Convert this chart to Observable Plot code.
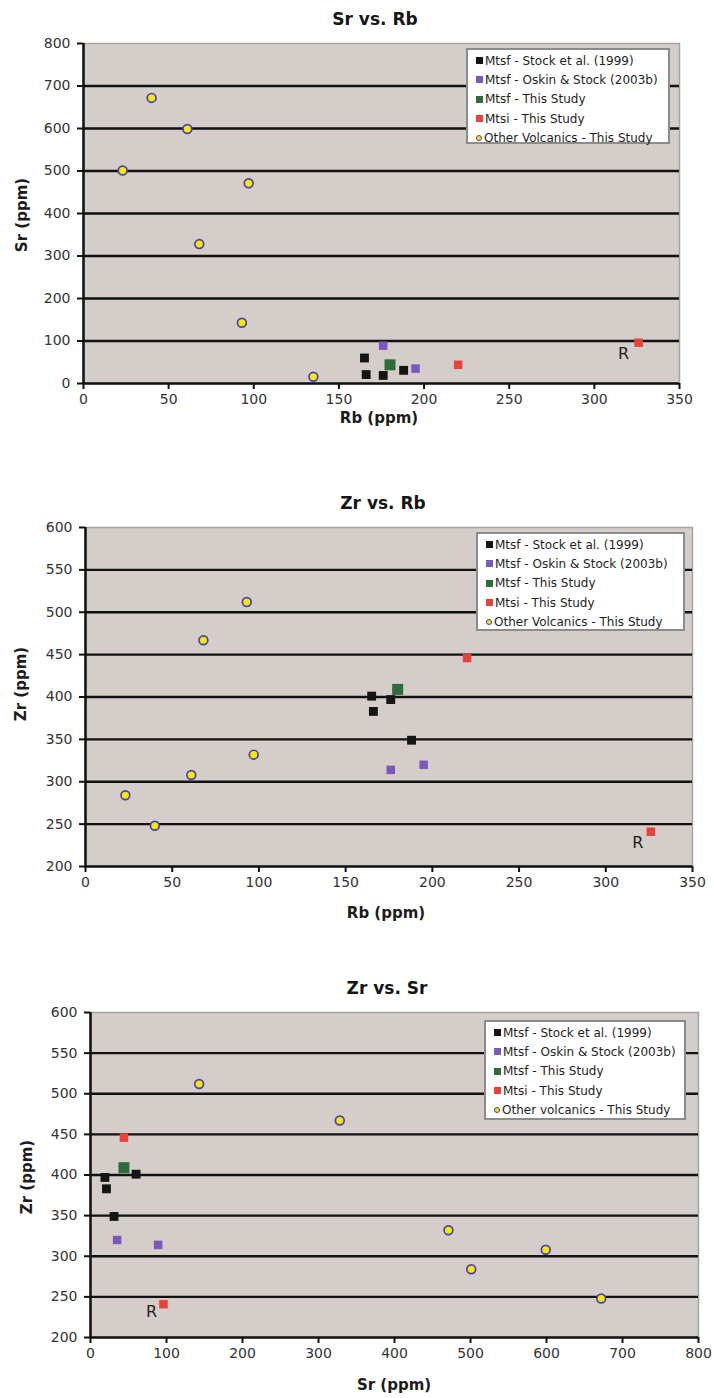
<!DOCTYPE html>
<html>
<head>
<meta charset="utf-8">
<script src="https://cdn.jsdelivr.net/npm/d3@7"></script>
<script src="https://cdn.jsdelivr.net/npm/@observablehq/plot@0.6"></script>
<style>
  body { margin: 0; background: #fff; }
  #page { position: relative; width: 714px; height: 1398px; overflow: hidden; font-family: "DejaVu Sans", Verdana, sans-serif; }
  .abs { position: absolute; }
  .title { font-weight: bold; font-size: 17px; color: #151515; transform: translate(-50%, -50%); white-space: nowrap; }
  .xlab { font-weight: bold; font-size: 15px; color: #1c1c1c; transform: translate(-50%, -50%); white-space: nowrap; }
  .ylab { font-weight: bold; font-size: 15px; color: #1c1c1c; transform: translate(-50%, -50%) rotate(-90deg); white-space: nowrap; }
  .legend { background: #fff; border: 2.5px solid #8c8c8c; box-sizing: border-box; font-size: 12px; color: #1e1e1e; padding: 1px 0 0 8px; }
  .legend .row { display: flex; align-items: center; height: 19.3px; white-space: nowrap; }
  .legend .sw { width: 7px; height: 7px; margin-right: 2px; flex: none; }
  .legend .sw.circ { width: 4px; height: 4px; border-radius: 50%; border: 1.6px solid #4a3fae; }
</style>
</head>
<body>
<div id="page"></div>
<script>
// ---------- DATA ----------
const groupLabels = ["Mtsf - Stock et al. (1999)", "Mtsf - Oskin & Stock (2003b)", "Mtsf - This Study", "Mtsi - This Study", "Other Volcanics - This Study"];
const groupLabelsZrSr = ["Mtsf - Stock et al. (1999)", "Mtsf - Oskin & Stock (2003b)", "Mtsf - This Study", "Mtsi - This Study", "Other volcanics - This Study"];

const stockRb = [165, 166, 176, 188];
const stockSr = [60, 21, 19, 31];
const stockZr = [401, 383, 397, 349];

const oskinRb = [176, 195];
const oskinSr = [89, 35];
const oskinZr = [314, 320];

const mtsfRb = [180];
const mtsfSr = [44];
const mtsfZr = [409];

const mtsiRb = [220, 326];
const mtsiSr = [44, 96];
const mtsiZr = [446, 241];

const otherRb = [40, 61, 23, 97, 68, 93, 135];
const otherSr = [672, 599, 501, 471, 328, 143, 16];
const otherZr = [248, 308, 284, 332, 467, 512, null];

const annotationText = "R";      // label next to the second Mtsi sample
const annotationGroup = 3, annotationIndex = 1;

const rbTicks = [0, 50, 100, 150, 200, 250, 300, 350];
const srTicksA = [0, 100, 200, 300, 400, 500, 600, 700, 800];
const zrTicks = [200, 250, 300, 350, 400, 450, 500, 550, 600];
const srTicksB = [0, 100, 200, 300, 400, 500, 600, 700, 800];

// ---------- build sample table ----------
const groupArrays = [
  [stockRb, stockSr, stockZr],
  [oskinRb, oskinSr, oskinZr],
  [mtsfRb, mtsfSr, mtsfZr],
  [mtsiRb, mtsiSr, mtsiZr],
  [otherRb, otherSr, otherZr]
];
const samples = [];
groupArrays.forEach(([rb, sr, zr], g) => {
  rb.forEach((v, i) => samples.push({group: g, idx: i, rb: v, sr: sr[i], zr: zr[i]}));
});

// ---------- styles ----------
const groupStyle = [
  {fill: "#151515", symbol: "square", r: 5.0},
  {fill: "#7b58bc", symbol: "square", r: 4.8},
  {fill: "#2e6c3a", symbol: "square", r: 6.2},
  {fill: "#e8423a", symbol: "square", r: 4.8},
  {fill: "#f6e800", symbol: "circle", r: 4.4, stroke: "#4a3fae", strokeWidth: 1.7}
];
const bg = "#d4cdca";

const charts = [
  {title: "Sr vs. Rb", x: "rb", y: "sr", xTicks: rbTicks, yTicks: srTicksA, xLabel: "Rb (ppm)", yLabel: "Sr (ppm)", legend: groupLabels,
   top: 0, height: 440, ml: 83, mr: 35, mt: 43, mb: 57,
   titlePos: [375, 19], xLabPos: [379, 418], yLabPos: [22, 215],
   legendBox: [466, 48, 204, 96], rOff: [-15, 11]},
  {title: "Zr vs. Rb", x: "rb", y: "zr", xTicks: rbTicks, yTicks: zrTicks, xLabel: "Rb (ppm)", yLabel: "Zr (ppm)", legend: groupLabels,
   top: 440, height: 490, ml: 85, mr: 22, mt: 87, mb: 64,
   titlePos: [383, 503], xLabPos: [386, 913], yLabPos: [21, 684],
   legendBox: [476, 532, 209, 99], rOff: [-13, 11]},
  {title: "Zr vs. Sr", x: "sr", y: "zr", xTicks: srTicksB, yTicks: zrTicks, xLabel: "Sr (ppm)", yLabel: "Zr (ppm)", legend: groupLabelsZrSr,
   top: 930, height: 468, ml: 90, mr: 16, mt: 82, mb: 61,
   titlePos: [387, 988], xLabPos: [394, 1385], yLabPos: [27, 1177],
   legendBox: [484, 1020, 202, 100], rOff: [-12, 8]}
];

const page = document.getElementById("page");

function addText(cls, text, x, y) {
  const d = document.createElement("div");
  d.className = "abs " + cls;
  d.textContent = text;
  d.style.left = x + "px";
  d.style.top = y + "px";
  page.appendChild(d);
}

charts.forEach(c => {
  const xDom = [c.xTicks[0], c.xTicks[c.xTicks.length - 1]];
  const yDom = [c.yTicks[0], c.yTicks[c.yTicks.length - 1]];
  const marks = [
    Plot.frame({fill: bg, stroke: "#a8a4a2", strokeWidth: 1.5}),
    Plot.ruleY(c.yTicks.slice(0, -1), {stroke: "#111", strokeWidth: 2.3}),
    Plot.ruleX([xDom[0]], {stroke: "#111", strokeWidth: 2.5}),
    Plot.axisY(c.yTicks, {tickSize: 6, tickPadding: 7, stroke: "#111", strokeWidth: 2, fill: "#333", label: null}),
    Plot.axisX(c.xTicks, {tickSize: 6, tickPadding: 5, stroke: "#111", strokeWidth: 2, fill: "#333", label: null})
  ];
  groupStyle.forEach((s, g) => {
    const rows = samples.filter(d => d.group === g && d[c.x] != null && d[c.y] != null);
    marks.push(Plot.dot(rows, {x: c.x, y: c.y, symbol: s.symbol, r: s.r, fill: s.fill,
      stroke: s.stroke || "none", strokeWidth: s.strokeWidth || 0}));
  });
  const annRows = samples.filter(d => d.group === annotationGroup && d.idx === annotationIndex);
  marks.push(Plot.text(annRows, {x: c.x, y: c.y, text: () => annotationText, dx: c.rOff[0], dy: c.rOff[1],
    fontSize: 16, fill: "#222"}));

  const svg = Plot.plot({
    width: 714, height: c.height,
    marginLeft: c.ml, marginRight: c.mr, marginTop: c.mt, marginBottom: c.mb,
    x: {domain: xDom, nice: false},
    y: {domain: yDom, nice: false},
    style: {fontFamily: "DejaVu Sans, Verdana, sans-serif", fontSize: "14px", background: "transparent", color: "#333", overflow: "visible"},
    marks
  });
  svg.style.position = "absolute";
  svg.style.left = "0px";
  svg.style.top = c.top + "px";
  page.appendChild(svg);

  addText("title", c.title, c.titlePos[0], c.titlePos[1]);
  addText("xlab", c.xLabel, c.xLabPos[0], c.xLabPos[1]);
  addText("ylab", c.yLabel, c.yLabPos[0], c.yLabPos[1]);

  const lg = document.createElement("div");
  lg.className = "abs legend";
  lg.style.left = c.legendBox[0] + "px";
  lg.style.top = c.legendBox[1] + "px";
  lg.style.width = c.legendBox[2] + "px";
  lg.style.height = c.legendBox[3] + "px";
  c.legend.forEach((lab, g) => {
    const row = document.createElement("div");
    row.className = "row";
    const sw = document.createElement("span");
    sw.className = "sw" + (groupStyle[g].symbol === "circle" ? " circ" : "");
    sw.style.background = groupStyle[g].fill;
    const t = document.createElement("span");
    t.textContent = lab;
    row.appendChild(sw);
    row.appendChild(t);
    lg.appendChild(row);
  });
  page.appendChild(lg);
});
</script>
</body>
</html>
